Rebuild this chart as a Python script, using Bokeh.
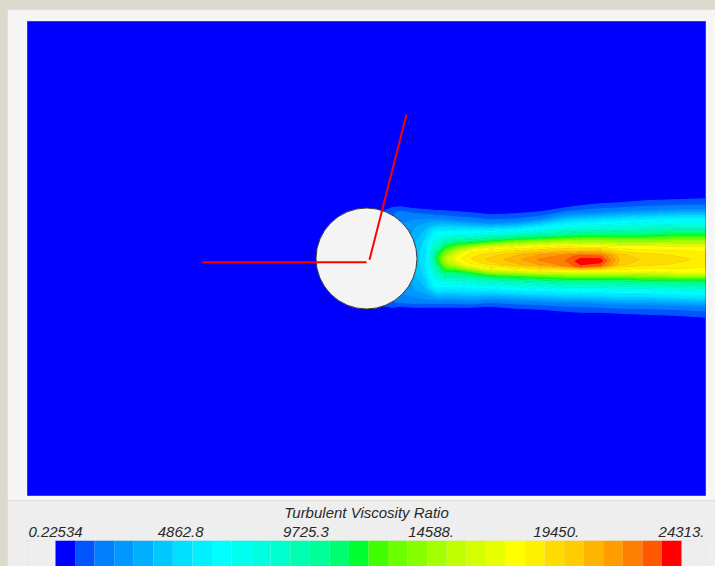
import numpy as np
from bokeh.plotting import figure
from bokeh.layouts import column
from bokeh.models import Range1d, FixedTicker
from bokeh.embed import file_html
from bokeh.resources import INLINE

# ---------------- data ----------------
ratio_min = 0.22534
ratio_max = 24313.0
n_bands = 32
band_colors = [
    "#0000ff", "#0055ff", "#0080ff", "#0098ff", "#00b0ff", "#00c8ff", "#00e0ff", "#00f0ff",
    "#00ffff", "#00fff0", "#00ffe0", "#00ffcc", "#00ffb0", "#00ff98", "#00ff70", "#00ff30",
    "#40ff00", "#6cff00", "#88ff00", "#a4ff00", "#c0ff00", "#d4ff00", "#e8ff00", "#ffff00",
    "#fff000", "#ffdc00", "#ffcc00", "#ffb400", "#ff9c00", "#ff8000", "#ff5800", "#ff0000",
]
tick_values = [0.22534, 4862.8, 9725.3, 14588.0, 19450.0, 24313.0]
tick_labels = ["0.22534", "4862.8", "9725.3", "14588.", "19450.", "24313."]
colorbar_title = "Turbulent Viscosity Ratio"

# cylinder (diameter ~1) and the two red probe lines, in diameters
cylinder_x = [0.0]
cylinder_y = [0.0]
cylinder_r = [0.505]
probe_xs = [[-1.64, 0.0], [0.03, 0.40]]
probe_ys = [[-0.037, -0.037], [-0.013, 1.44]]

# wake: stations downstream; at each, lateral positions of read band crossings
# (outer edge, band 2, band 3, cyan, green, yellow, core, peak, core, yellow, green,
#  cyan, band 3, band 2, outer edge) and the ratio read there
wake_station_x = [0.17, 0.34, 0.46, 0.59, 0.70, 0.79, 0.89, 1.04, 1.24, 1.49,
                  1.74, 1.99, 2.14, 2.34, 2.54, 2.79, 3.09, 3.40]
wake_y = [
    [0.55, 0.51, 0.48, 0.36, 0.22, 0.08, 0.04, 0.00, -0.04, -0.08, -0.22, -0.36, -0.48, -0.51, -0.55],
    [0.56, 0.51, 0.45, 0.34, 0.22, 0.10, 0.05, 0.00, -0.05, -0.10, -0.22, -0.34, -0.42, -0.47, -0.52],
    [0.55, 0.49, 0.43, 0.32, 0.20, 0.10, 0.05, 0.00, -0.05, -0.10, -0.20, -0.32, -0.43, -0.48, -0.53],
    [0.54, 0.48, 0.42, 0.30, 0.18, 0.08, 0.04, 0.00, -0.04, -0.08, -0.18, -0.30, -0.43, -0.48, -0.53],
    [0.53, 0.47, 0.41, 0.25, 0.13, 0.06, 0.03, 0.00, -0.03, -0.06, -0.13, -0.28, -0.43, -0.48, -0.53],
    [0.52, 0.47, 0.40, 0.26, 0.11, 0.05, 0.025, 0.00, -0.03, -0.06, -0.12, -0.27, -0.43, -0.48, -0.53],
    [0.52, 0.46, 0.39, 0.26, 0.14, 0.05, 0.025, 0.00, -0.025, -0.05, -0.12, -0.27, -0.43, -0.48, -0.53],
    [0.50, 0.45, 0.38, 0.26, 0.15, 0.08, 0.04, 0.00, -0.035, -0.07, -0.14, -0.28, -0.44, -0.48, -0.53],
    [0.48, 0.43, 0.36, 0.27, 0.17, 0.10, 0.04, -0.01, -0.05, -0.10, -0.17, -0.29, -0.42, -0.47, -0.52],
    [0.49, 0.44, 0.37, 0.28, 0.19, 0.11, 0.04, -0.01, -0.06, -0.11, -0.18, -0.30, -0.43, -0.49, -0.54],
    [0.51, 0.46, 0.40, 0.30, 0.20, 0.12, 0.04, -0.01, -0.06, -0.12, -0.19, -0.31, -0.44, -0.50, -0.55],
    [0.55, 0.50, 0.45, 0.33, 0.21, 0.13, 0.03, -0.02, -0.07, -0.12, -0.20, -0.32, -0.45, -0.52, -0.57],
    [0.57, 0.52, 0.46, 0.34, 0.22, 0.12, 0.02, -0.03, -0.08, -0.12, -0.20, -0.32, -0.45, -0.53, -0.58],
    [0.59, 0.54, 0.47, 0.35, 0.22, 0.12, 0.02, -0.02, -0.07, -0.12, -0.20, -0.32, -0.46, -0.53, -0.58],
    [0.60, 0.55, 0.48, 0.36, 0.22, 0.11, 0.04, -0.01, -0.06, -0.12, -0.20, -0.33, -0.47, -0.54, -0.59],
    [0.62, 0.57, 0.49, 0.37, 0.22, 0.11, 0.04, -0.01, -0.06, -0.12, -0.21, -0.33, -0.47, -0.55, -0.60],
    [0.63, 0.58, 0.50, 0.38, 0.23, 0.11, 0.04, -0.01, -0.06, -0.13, -0.21, -0.34, -0.48, -0.56, -0.61],
    [0.64, 0.59, 0.50, 0.38, 0.23, 0.11, 0.04, -0.01, -0.06, -0.13, -0.21, -0.35, -0.49, -0.58, -0.63],
]
wake_ratio = [
    [0, 600, 700, 700, 700, 700, 700, 700, 700, 700, 700, 700, 700, 600, 0],
    [0, 900, 1900, 2300, 2500, 2500, 2500, 2500, 2500, 2500, 2500, 2300, 1900, 900, 0],
    [0, 900, 1900, 2800, 3300, 3600, 3650, 3700, 3650, 3600, 3300, 2800, 1900, 900, 0],
    [0, 900, 1900, 3800, 4800, 5200, 5300, 5400, 5300, 5200, 4800, 3800, 1900, 900, 0],
    [0, 900, 1900, 6400, 9000, 10500, 10900, 11200, 10900, 10500, 9000, 6400, 1900, 900, 0],
    [0, 900, 1900, 6400, 11700, 14000, 14800, 15500, 14800, 14000, 11700, 6400, 1900, 900, 0],
    [0, 900, 1900, 6400, 11700, 16500, 17200, 17800, 17200, 16500, 11700, 6400, 1900, 900, 0],
    [0, 900, 1900, 6400, 11700, 17800, 18600, 19000, 18600, 17800, 11700, 6400, 1900, 900, 0],
    [0, 900, 1900, 6400, 11700, 17800, 19400, 20000, 19400, 17800, 11700, 6400, 1900, 900, 0],
    [0, 900, 1900, 6400, 11700, 17800, 20300, 21000, 20300, 17800, 11700, 6400, 1900, 900, 0],
    [0, 900, 1900, 6400, 11700, 17800, 21300, 22200, 21300, 17800, 11700, 6400, 1900, 900, 0],
    [0, 900, 1900, 6400, 11700, 17800, 22200, 22800, 22200, 17800, 11700, 6400, 1900, 900, 0],
    [0, 900, 1900, 6400, 11700, 17800, 23300, 24000, 23300, 17800, 11700, 6400, 1900, 900, 0],
    [0, 900, 1900, 6400, 11700, 17800, 23000, 24000, 23000, 17800, 11700, 6400, 1900, 900, 0],
    [0, 900, 1900, 6400, 11700, 17800, 19900, 20300, 19900, 17800, 11700, 6400, 1900, 900, 0],
    [0, 900, 1900, 6400, 11700, 17800, 19200, 19600, 19200, 17800, 11700, 6400, 1900, 900, 0],
    [0, 900, 1900, 6400, 11700, 17800, 18900, 19200, 18900, 17800, 11700, 6400, 1900, 900, 0],
    [0, 900, 1900, 6400, 11700, 17800, 18500, 18800, 18500, 17800, 11700, 6400, 1900, 900, 0],
]

# ---------------- build ----------------
band_edges = np.linspace(ratio_min, ratio_max, n_bands + 1)

Y2 = np.array(wake_y, dtype=float).T
Z2 = np.array(wake_ratio, dtype=float).T
X2 = np.tile(np.array(wake_station_x, dtype=float), (Y2.shape[0], 1))

FONT = "Liberation Sans"
PANEL = "#f5f5f5"
W = 708  # content width right of the left strip
BL, BR = 20, 10  # frame borders (shared by both figures)

p = figure(width=W, height=491, output_backend="svg", toolbar_location=None,
           x_range=Range1d(-3.39, 3.39), y_range=Range1d(-2.37, 2.37),
           x_axis_location=None, y_axis_location=None,
           min_border_left=BL, min_border_right=BR, min_border_top=12, min_border_bottom=5)
p.background_fill_color = band_colors[0]
p.border_fill_color = PANEL
p.outline_line_color = "#4a4a4a"
p.outline_line_width = 1
p.grid.grid_line_color = None

line_cols = band_colors[1:] + [band_colors[-1]]
p.contour(x=X2, y=Y2, z=Z2, levels=list(band_edges[1:]), fill_color=band_colors[1:],
          line_color=line_cols, line_width=1)
p.circle(x=cylinder_x, y=cylinder_y, radius=cylinder_r, fill_color="#f4f4f4",
         line_color="#3a3a3a", line_width=1)
p.multi_line(xs=probe_xs, ys=probe_ys, line_color="#ff0000", line_width=2)

# colorbar: frame spans the same width as the plot; bar occupies 55..681 px of the page
px_per_unit = (ratio_max - ratio_min) / 626.0
cb = figure(width=W, height=66, output_backend="svg", toolbar_location=None,
            x_range=Range1d(ratio_min - 28 * px_per_unit, ratio_max + 24 * px_per_unit),
            y_range=Range1d(0, 1),
            x_axis_location="above", y_axis_location=None,
            min_border_left=BL, min_border_right=BR, min_border_top=39, min_border_bottom=0)
cb.background_fill_color = "#eeeeee"
cb.border_fill_color = "#eeeeee"
cb.outline_line_color = None
cb.grid.grid_line_color = None
cb.quad(left=band_edges[:-1], right=band_edges[1:], bottom=0, top=1,
        fill_color=band_colors, line_color=None)
ax = cb.xaxis[0]
ax.ticker = FixedTicker(ticks=tick_values)
ax.major_label_overrides = {v: s for v, s in zip(tick_values, tick_labels)}
ax.axis_label = colorbar_title
ax.axis_line_color = None
ax.major_tick_line_color = None
ax.minor_tick_line_color = None
ax.major_tick_out = 0
ax.major_label_standoff = 4
ax.axis_label_standoff = 3
ax.major_label_text_font = FONT
ax.major_label_text_font_style = "italic"
ax.major_label_text_font_size = "15px"
ax.major_label_text_color = "#2a2a2a"
ax.axis_label_text_font = FONT
ax.axis_label_text_font_style = "italic"
ax.axis_label_text_font_size = "15px"
ax.axis_label_text_color = "#2a2a2a"

inner = column(p, cb, spacing=0, margin=(9, 0, 0, 7))
layout = column(inner, spacing=0, margin=0, styles={"background-color": "#dcd9ce"})
open("out.html", "w").write(file_html(layout, INLINE))
